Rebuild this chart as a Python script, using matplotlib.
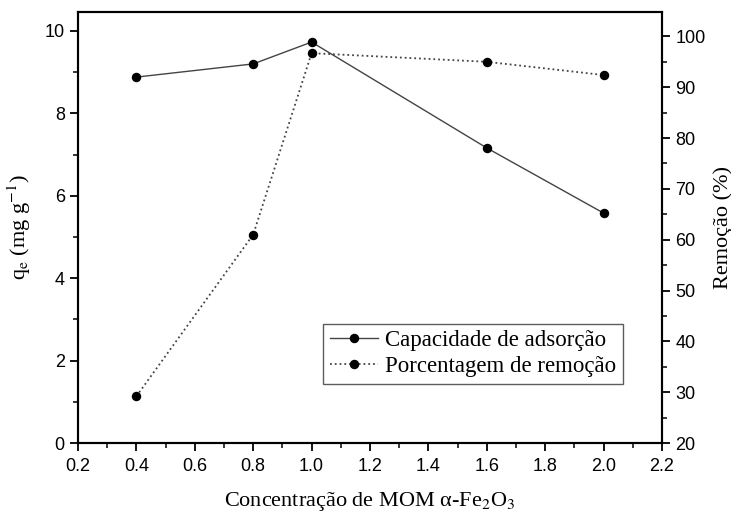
import numpy as np
import matplotlib.pyplot as plt
from matplotlib.ticker import MultipleLocator

# data
conc = [0.4, 0.8, 1.0, 1.6, 2.0]
capacidade = [8.88, 9.20, 9.73, 7.16, 5.58]      # q_e (mg g-1), left axis
remocao = [29.2, 61.0, 96.7, 95.0, 92.4]         # removal (%), right axis

plt.rcParams["mathtext.fontset"] = "stix"
tick_font = "Liberation Sans"
label_font = "Liberation Serif"

fig = plt.figure(figsize=(7.31, 5.19), dpi=100)
ax = fig.add_axes([0.1067, 0.1464, 0.7989, 0.8305])
ax2 = ax.twinx()

l1, = ax.plot(conc, capacidade, "-", color="#444444", lw=1.0,
              marker="o", ms=5.8, mfc="black", mec="black",
              label="Capacidade de adsorção")
l2, = ax2.plot(conc, remocao, ":", color="#444444", lw=1.3,
               marker="o", ms=5.8, mfc="black", mec="black",
               label="Porcentagem de remoção")

ax.xaxis.set_minor_locator(MultipleLocator(0.1))
ax.yaxis.set_minor_locator(MultipleLocator(1))
ax2.yaxis.set_minor_locator(MultipleLocator(5))

for a in (ax, ax2):
    for s in a.spines.values():
        s.set_linewidth(1.5)
    a.tick_params(which="major", direction="out", length=6, width=1.3,
                  labelsize=13)
    a.tick_params(which="minor", direction="out", length=3.5, width=1.1)
ax.tick_params(axis="x", top=False, which="both", pad=5)
ax2.tick_params(axis="x", top=False, which="both")

ax.set_xticks(np.arange(0.2, 2.21, 0.2))
ax.set_xticklabels([f"{v:.1f}" for v in ax.get_xticks()], family=tick_font)
ax.set_yticks(np.arange(0, 10.1, 2))
ax.set_yticklabels([f"{v:g}" for v in ax.get_yticks()], family=tick_font)
ax2.set_yticks(np.arange(20, 101, 10))
ax2.set_yticklabels([f"{v:g}" for v in ax2.get_yticks()], family=tick_font)
ax.set_ylim(0, 10.46)
ax2.set_ylim(20, 104.8)
ax.set_xlim(0.2, 2.2)

ax.set_xlabel(r"Concentração de MOM α-Fe$_2$O$_3$", family=label_font,
              fontsize=16)
ax.xaxis.set_label_coords(0.5, -0.11)
ax.set_ylabel(r"q$_\mathrm{e}$ (mg g$^{-1}$)", family=label_font,
              fontsize=16)
ax.yaxis.set_label_coords(-0.077, 0.5)
ax2.set_ylabel("Remoção (%)", family=label_font, fontsize=16)
ax2.yaxis.set_label_coords(1.087, 0.5)

leg = ax.legend(handles=[l1, l2], loc="lower right",
                bbox_to_anchor=(0.933, 0.137), frameon=True, fancybox=False,
                prop={"family": label_font, "size": 16.5}, handlelength=2.1,
                handletextpad=0.3, borderpad=0.3, labelspacing=0.2,
                borderaxespad=0)
leg.get_frame().set_edgecolor("#333333")
leg.get_frame().set_linewidth(1.0)

fig.savefig("out.png", dpi=100)
